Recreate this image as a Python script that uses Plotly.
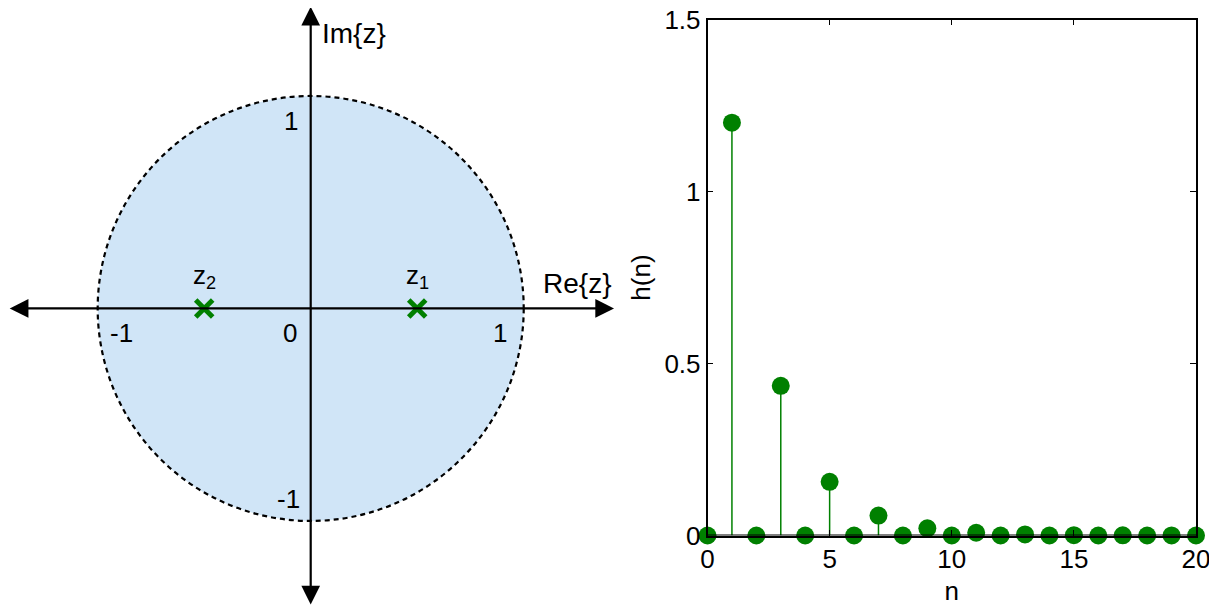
import plotly.graph_objects as go

# ---------------- data ----------------
pole_re = [0.5, -0.5]
pole_im = [0.0, 0.0]
pole_names = ["z<sub>1</sub>", "z<sub>2</sub>"]
roc_radius = 1.0

n_vals = list(range(21))
h_vals = [0, 1.2, 0, 0.435, 0, 0.156, 0, 0.058, 0, 0.021, 0,
          0.008, 0, 0.003, 0, 0.001, 0, 0.0004, 0, 0.0001, 0]

x_ticks = [0, 5, 10, 15, 20]
y_ticks = [0, 0.5, 1, 1.5]
y_ticklabels = ["0", "0.5", "1", "1.5"]

GREEN = "#008000"
FONT = "Liberation Sans, Arial, sans-serif"

# page body has an 8px margin; the figure is sized to fill the rest of the window
OFF = 8
W, H = 1217 - OFF, 607 - OFF

fig = go.Figure()

# ---------------- left panel: pole-zero plot ----------------
fig.add_shape(type="circle", xref="x", yref="y",
              x0=-roc_radius, y0=-roc_radius, x1=roc_radius, y1=roc_radius,
              fillcolor="#D0E5F7", line=dict(color="black", width=2.2, dash="5px,4px"),
              layer="below")

fig.add_trace(go.Scatter(x=pole_re, y=pole_im, mode="markers",
                         marker=dict(symbol="x-thin", size=17, color=GREEN,
                                     line=dict(color=GREEN, width=5)),
                         xaxis="x", yaxis="y", showlegend=False, hoverinfo="skip",
                         cliponaxis=False))

annotations = []
arrow_style = dict(xref="x", yref="y", axref="x", ayref="y", showarrow=True,
                   arrowside="end+start", arrowhead=2, arrowsize=1.7, arrowwidth=2.2,
                   arrowcolor="black", text="", standoff=0, startstandoff=0)
annotations.append(dict(x=1.424, y=0, ax=-1.42, ay=0, **arrow_style))
annotations.append(dict(x=0, y=1.42, ax=0, ay=-1.40, **arrow_style))

lbl_font = dict(family=FONT, size=26, color="black")
big_font = dict(family=FONT, size=28, color="black")
annotations.append(dict(x=0.045, y=1.296, xref="x", yref="y", text="Im{z}", showarrow=False,
                        xanchor="left", yanchor="middle", font=big_font))
annotations.append(dict(x=1.08, y=0.118, xref="x", yref="y", text="Re{z}", showarrow=False,
                        xanchor="left", yanchor="middle", font=big_font))
for tx, ty, tt in [(-0.094, 0.882, "1"), (-0.102, -0.896, "-1"), (-0.097, -0.115, "0"),
                   (-0.886, -0.115, "-1"), (0.888, -0.115, "1")]:
    annotations.append(dict(x=tx, y=ty, xref="x", yref="y", text=tt, showarrow=False,
                            xanchor="center", yanchor="middle", font=lbl_font))
for px, name in zip(pole_re, pole_names):
    annotations.append(dict(x=px, y=0.15, xref="x", yref="y", text=name, showarrow=False,
                            xanchor="center", yanchor="middle", font=lbl_font))

# ---------------- right panel: stem plot ----------------
stem_x, stem_y = [], []
for n, h in zip(n_vals, h_vals):
    stem_x += [n, n, None]
    stem_y += [0, h, None]

fig.add_trace(go.Scatter(x=stem_x, y=stem_y, mode="lines",
                         line=dict(color=GREEN, width=1.5),
                         xaxis="x2", yaxis="y2", showlegend=False, hoverinfo="skip",
                         cliponaxis=False))
fig.add_trace(go.Scatter(x=n_vals, y=h_vals, mode="markers",
                         marker=dict(symbol="circle", size=18, color=GREEN),
                         xaxis="x2", yaxis="y2", showlegend=False, cliponaxis=False))

fig.add_shape(type="line", xref="x2", yref="y2", x0=0, x1=20, y0=0, y1=0,
              line=dict(color="black", width=2.2), layer="above")

# screen-pixel geometry converted to figure fractions
def fx(px):
    return (px - OFF) / W

def fy(py):
    return (H - (py - OFF)) / H

fig.update_layout(
    width=W, height=H,
    margin=dict(l=0, r=0, t=0, b=0, autoexpand=False),
    paper_bgcolor="white", plot_bgcolor="rgba(0,0,0,0)",
    font=dict(family=FONT, size=26, color="black"),
    annotations=annotations,
    xaxis=dict(domain=[0, fx(620)], range=[-1.421, 1.452], visible=False,
               fixedrange=True, automargin=False),
    yaxis=dict(domain=[0, 1], range=[-1.405, 1.414], visible=False,
               fixedrange=True, automargin=False),
    xaxis2=dict(domain=[fx(707.5), fx(1196)], range=[0, 20], anchor="y2",
                tickvals=x_ticks, ticktext=[str(t) for t in x_ticks],
                ticks="inside", ticklen=6, tickcolor="black", tickwidth=1,
                showline=True, linecolor="black", linewidth=1.5, mirror="ticks",
                showgrid=False, zeroline=False, automargin=False,
                ticklabeloverflow="allow",
                title=dict(text="n", standoff=8, font=dict(size=26)),
                tickfont=dict(size=26)),
    yaxis2=dict(domain=[fy(535.5), fy(19.5)], range=[0, 1.5], anchor="x2",
                tickvals=y_ticks, ticktext=y_ticklabels,
                ticks="inside", ticklen=6, tickcolor="black", tickwidth=1,
                showline=True, linecolor="black", linewidth=1.5, mirror="ticks",
                showgrid=False, zeroline=False, automargin=False,
                ticklabeloverflow="allow",
                title=dict(text="h(n)", standoff=6, font=dict(size=26)),
                tickfont=dict(size=26)),
)

fig.write_html("out.html")
